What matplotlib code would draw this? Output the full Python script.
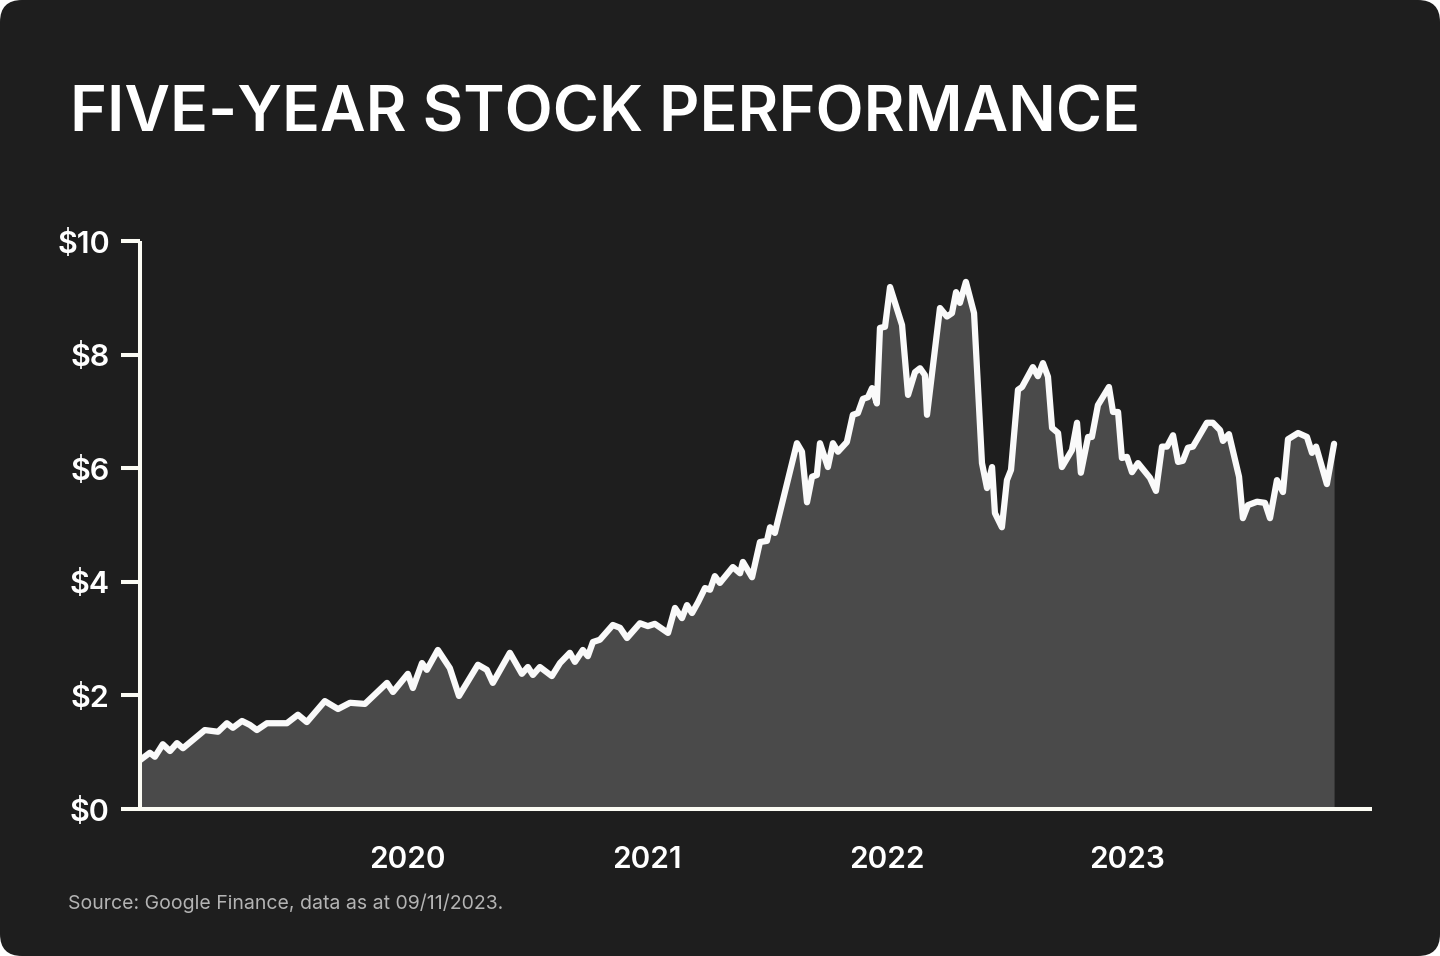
import matplotlib
matplotlib.use("Agg")
import matplotlib.pyplot as plt
from matplotlib.patches import FancyBboxPatch
from matplotlib.transforms import IdentityTransform

# ---- data (decimal year, share price in $) ----
t_years = [
    2018.888, 2018.929, 2018.950, 2018.983, 2019.013, 2019.042, 2019.067, 2019.158,
    2019.213, 2019.250, 2019.275, 2019.313, 2019.346, 2019.375, 2019.417, 2019.500,
    2019.546, 2019.583, 2019.658, 2019.713, 2019.763, 2019.825, 2019.917, 2019.942,
    2020.004, 2020.025, 2020.063, 2020.083, 2020.129, 2020.179, 2020.217, 2020.296,
    2020.333, 2020.358, 2020.429, 2020.479, 2020.504, 2020.525, 2020.554, 2020.604,
    2020.638, 2020.679, 2020.700, 2020.733, 2020.754, 2020.775, 2020.804, 2020.858,
    2020.888, 2020.917, 2020.971, 2021.004, 2021.033, 2021.088, 2021.117, 2021.146,
    2021.167, 2021.188, 2021.213, 2021.242, 2021.263, 2021.283, 2021.304, 2021.358,
    2021.388, 2021.400, 2021.438, 2021.471, 2021.500, 2021.513, 2021.533, 2021.625,
    2021.646, 2021.667, 2021.688, 2021.708, 2021.721, 2021.754, 2021.775, 2021.796,
    2021.833, 2021.858, 2021.879, 2021.900, 2021.921, 2021.938, 2021.958, 2021.971,
    2021.992, 2022.013, 2022.063, 2022.088, 2022.117, 2022.138, 2022.158, 2022.167,
    2022.221, 2022.250, 2022.271, 2022.288, 2022.304, 2022.329, 2022.363, 2022.396,
    2022.417, 2022.438, 2022.450, 2022.479, 2022.500, 2022.517, 2022.546, 2022.563,
    2022.608, 2022.629, 2022.650, 2022.671, 2022.688, 2022.713, 2022.729, 2022.771,
    2022.792, 2022.808, 2022.838, 2022.854, 2022.879, 2022.925, 2022.942, 2022.963,
    2022.979, 2023.000, 2023.021, 2023.046, 2023.096, 2023.121, 2023.146, 2023.167,
    2023.192, 2023.213, 2023.233, 2023.254, 2023.275, 2023.333, 2023.358, 2023.388,
    2023.400, 2023.425, 2023.467, 2023.483, 2023.504, 2023.542, 2023.575, 2023.596,
    2023.625, 2023.650, 2023.671, 2023.713, 2023.750, 2023.771, 2023.788, 2023.833,
    2023.863,
]
price = [
    0.86, 0.99, 0.92, 1.14, 1.02, 1.16, 1.07, 1.39,
    1.36, 1.51, 1.43, 1.55, 1.48, 1.39, 1.51, 1.51,
    1.66, 1.53, 1.90, 1.76, 1.87, 1.85, 2.22, 2.06,
    2.38, 2.13, 2.57, 2.45, 2.80, 2.48, 1.99, 2.54,
    2.45, 2.22, 2.75, 2.38, 2.50, 2.36, 2.50, 2.34,
    2.57, 2.75, 2.59, 2.80, 2.69, 2.94, 2.98, 3.24,
    3.19, 3.01, 3.27, 3.22, 3.26, 3.10, 3.54, 3.36,
    3.59, 3.45, 3.64, 3.89, 3.86, 4.10, 3.98, 4.26,
    4.15, 4.35, 4.08, 4.70, 4.72, 4.96, 4.86, 6.44,
    6.29, 5.40, 5.85, 5.88, 6.44, 6.02, 6.44, 6.29,
    6.46, 6.94, 6.97, 7.22, 7.25, 7.41, 7.14, 8.47,
    8.49, 9.19, 8.52, 7.29, 7.69, 7.76, 7.64, 6.94,
    8.82, 8.67, 8.73, 9.10, 8.91, 9.28, 8.73, 6.09,
    5.65, 6.02, 5.21, 4.96, 5.79, 5.97, 7.38, 7.43,
    7.78, 7.62, 7.85, 7.61, 6.71, 6.62, 6.02, 6.32,
    6.80, 5.92, 6.55, 6.55, 7.11, 7.43, 6.99, 6.99,
    6.18, 6.20, 5.93, 6.09, 5.83, 5.60, 6.38, 6.38,
    6.58, 6.11, 6.13, 6.36, 6.38, 6.80, 6.80, 6.67,
    6.48, 6.60, 5.85, 5.12, 5.35, 5.41, 5.39, 5.12,
    5.79, 5.58, 6.51, 6.62, 6.55, 6.27, 6.38, 5.72,
    6.43,
]
year_ticks = [2020, 2021, 2022, 2023]
year_labels = ["2020", "2021", "2022", "2023"]
y_ticks = [0, 2, 4, 6, 8, 10]
y_labels = ["$0", "$2", "$4", "$6", "$8", "$10"]
title = "FIVE-YEAR STOCK PERFORMANCE"
source = "Source: Google Finance, data as at 09/11/2023."

BG = "#1e1e1e"
FILL = "#4a4a4a"
LINE = "#fafafa"
AXIS = "#fcfcf4"
FONT = ["Inter", "DejaVu Sans"]

W, H = 1440, 956
fig = plt.figure(figsize=(W / 100, H / 100), dpi=100)
fig.patch.set_facecolor("white")
card = FancyBboxPatch((0, 0), W, H, boxstyle="round,pad=0,rounding_size=22",
                      transform=IdentityTransform(), facecolor=BG, edgecolor="none",
                      zorder=-10)
fig.add_artist(card)

ax = fig.add_axes([140 / W, 1 - 809 / H, (1372 - 140) / W, (809 - 241) / H])
ax.set_facecolor("none")
ax.fill_between(t_years, price, 0, color=FILL, linewidth=0, zorder=1)
ax.plot(t_years, price, color=LINE, linewidth=4.5, solid_joinstyle="round",
        solid_capstyle="round", zorder=2)

ax.set_xlim(2018.888, 2024.021)
ax.set_ylim(0, 10)

for s in ["top", "right"]:
    ax.spines[s].set_visible(False)
for s in ["left", "bottom"]:
    ax.spines[s].set_color(AXIS)
    ax.spines[s].set_linewidth(2.9)
    ax.spines[s].set_zorder(3)
    ax.spines[s].set_capstyle("butt")

ax.set_yticks(y_ticks)
ax.set_yticklabels(y_labels)
ax.tick_params(axis="y", length=13.7, width=2.9, color=AXIS, pad=8,
               labelcolor="white", labelsize=22)
ax.set_xticks(year_ticks)
ax.set_xticklabels(year_labels)
ax.tick_params(axis="x", length=0, pad=27, labelcolor="white", labelsize=21.5)
for lab in ax.get_xticklabels() + ax.get_yticklabels():
    lab.set_fontfamily(FONT)
    lab.set_fontweight("semibold")

fig.text(70 / W, 1 - 132 / H, title, color="white", fontsize=45.2,
         fontfamily=FONT, fontweight="semibold", va="baseline", ha="left")
fig.text(68 / W, 1 - 909 / H, source, color="#b4b4b4", fontsize=14,
         fontfamily=FONT, va="baseline", ha="left")

fig.savefig("out.png", dpi=100, facecolor=fig.get_facecolor())
